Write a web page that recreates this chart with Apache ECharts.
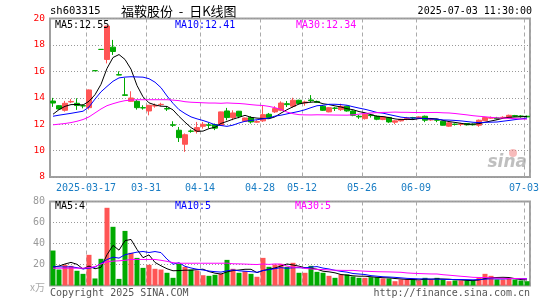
<!DOCTYPE html>
<html><head><meta charset="utf-8">
<script src="https://cdn.jsdelivr.net/npm/echarts@6/dist/echarts.min.js"></script>
<style>html,body{margin:0;padding:0;background:#fff}#c{width:545px;height:300px}</style>
</head><body><div id="c"></div>
<script>
const dates = [
 '2025-03-07','2025-03-10','2025-03-11','2025-03-12','2025-03-13','2025-03-14','2025-03-17','2025-03-18','2025-03-19','2025-03-20',
 '2025-03-21','2025-03-24','2025-03-25','2025-03-26','2025-03-27','2025-03-28','2025-03-31','2025-04-01','2025-04-02','2025-04-03',
 '2025-04-07','2025-04-08','2025-04-09','2025-04-10','2025-04-11','2025-04-14','2025-04-15','2025-04-16','2025-04-17','2025-04-18',
 '2025-04-21','2025-04-22','2025-04-23','2025-04-24','2025-04-25','2025-04-28','2025-04-29','2025-04-30','2025-05-06','2025-05-07',
 '2025-05-08','2025-05-09','2025-05-12','2025-05-13','2025-05-14','2025-05-15','2025-05-16','2025-05-19','2025-05-20','2025-05-21',
 '2025-05-22','2025-05-23','2025-05-26','2025-05-27','2025-05-28','2025-05-29','2025-05-30','2025-06-03','2025-06-04','2025-06-05',
 '2025-06-06','2025-06-09','2025-06-10','2025-06-11','2025-06-12','2025-06-13','2025-06-16','2025-06-17','2025-06-18','2025-06-19',
 '2025-06-20','2025-06-23','2025-06-24','2025-06-25','2025-06-26','2025-06-27','2025-06-30','2025-07-01','2025-07-02','2025-07-03'];
const opens = [13.75,13.40,13.05,13.68,13.58,13.40,13.25,16.05,17.66,16.90,
 17.83,15.75,14.22,13.73,13.73,13.25,13.00,13.38,13.48,13.18,
 11.95,11.54,10.48,11.48,11.46,11.84,11.94,11.97,11.92,13.00,
 12.50,12.98,12.22,12.50,12.15,12.25,12.75,12.93,13.05,13.55,
 13.36,13.81,13.60,13.83,13.72,13.36,12.93,13.22,13.10,13.36,
 13.00,12.60,12.42,12.70,12.60,12.35,12.50,12.15,12.25,12.42,
 12.50,12.45,12.60,12.32,12.33,12.22,11.85,12.00,11.98,12.05,
 12.00,11.92,12.27,12.45,12.47,12.48,12.50,12.65,12.62,12.60];
const closes = [13.60,13.15,13.58,13.72,13.41,13.38,14.59,16.05,17.66,19.43,
 17.50,15.72,14.18,13.98,13.25,13.23,13.43,13.40,13.50,13.15,
 11.92,10.98,11.20,11.46,11.74,11.99,11.92,11.70,12.93,12.50,
 12.85,12.60,12.47,12.17,12.20,12.72,12.50,13.18,13.60,13.48,
 13.81,13.56,13.68,13.78,13.65,13.05,13.25,13.20,13.35,13.00,
 12.67,12.55,12.75,12.65,12.37,12.55,12.17,12.25,12.37,12.47,
 12.47,12.55,12.30,12.37,12.30,11.92,12.10,11.98,12.02,11.95,
 11.95,12.30,12.50,12.50,12.42,12.52,12.67,12.60,12.58,12.55];
const lows = [13.31,13.10,12.95,13.60,13.08,13.20,13.10,16.05,17.66,16.60,
 17.24,15.70,14.15,13.70,13.10,13.10,12.67,13.25,13.35,13.00,
 11.79,10.65,9.90,11.35,11.29,11.66,11.70,11.55,11.90,12.29,
 12.30,12.45,12.20,12.05,12.10,12.17,12.42,12.85,12.98,13.30,
 13.25,13.50,13.40,13.65,13.60,13.00,12.90,13.00,13.00,12.95,
 12.60,12.40,12.35,12.50,12.30,12.30,12.10,12.00,12.20,12.30,
 12.35,12.40,12.15,12.25,12.15,11.90,11.80,11.90,11.85,11.90,
 11.90,11.80,12.25,12.40,12.35,12.40,12.45,12.55,12.50,12.50];
const highs = [13.99,13.45,13.76,13.90,13.96,13.50,14.62,16.05,17.66,19.43,
 18.38,16.00,15.50,14.49,13.83,13.43,13.45,13.56,13.62,13.36,
 12.22,11.79,11.30,11.60,12.17,12.17,12.10,12.05,12.95,13.23,
 13.05,13.00,12.50,12.60,12.30,13.38,12.85,13.36,13.73,13.75,
 14.00,13.85,13.78,14.20,13.78,13.45,13.30,13.30,13.55,13.40,
 13.05,12.70,12.80,12.78,12.65,12.60,12.55,12.30,12.40,12.55,
 12.55,12.60,12.65,12.42,12.40,12.25,12.15,12.05,12.10,12.08,
 12.05,12.35,12.55,12.58,12.55,12.60,12.72,12.70,12.68,12.65];
const volumes = [33.3,15.2,19.7,18.7,14.0,11.1,29.2,6.7,25.4,74.0,
 55.9,6.3,52.0,31.1,26.3,16.8,19.7,15.9,15.2,12.1,
 7.3,20.6,17.8,15.2,14.3,9.8,9.2,10.2,11.1,24.4,
 15.9,12.1,13.7,11.1,8.3,26.3,17.8,20.0,20.6,17.8,
 21.6,12.1,12.1,18.7,13.0,12.1,9.2,7.3,10.5,10.5,
 8.6,7.3,7.3,7.9,7.9,6.7,6.7,4.1,5.7,5.7,
 6.3,4.8,7.3,5.7,7.3,5.7,4.1,4.8,4.8,4.8,
 4.8,7.3,11.1,9.2,5.7,5.7,6.3,5.7,4.8,4.1];
// moving-average values at the start of the window (history precedes the window)
const ma5Head = [12.75,13.10,13.35,13.48];
const ma10Head = [12.60,12.68,12.75,12.82,12.90,12.98,13.30,13.90,14.45];
const ma30Head = [11.95,12.00,12.05,12.12,12.22,12.35,12.55,12.85,13.15,13.40,
 13.55,13.68,13.78,13.82,13.85,13.85,13.85,13.85,13.85,13.85,
 13.82,13.78,13.70,13.66,13.64,13.62,13.60,13.60,13.58];
const volMa5Head = [17.5,18.5,20.5,22.0];
const volMa10Head = [17.8,17.8,17.6,17.8,17.0,15.8,16.5,17.5,21.0];
const volMa30Head = [16.5,16.5,16.5,16.5,16.5,16.5,17.0,18.0,20.5,22.5,
 23.2,23.5,24.0,24.8,24.8,24.8,24.8,24.8,24.0,23.0,
 21.8,21.2,21.2,21.2,21.2,21.2,21.2,21.2,21.2];
const markedDates = [6,16,25,35,42,52,61,79];
const priceTicks = {min:8, max:20, step:2};
const volTicks = {min:0, max:80, step:20};
const maLabels = ['MA5:12.55','MA10:12.41','MA30:12.34'];
const volMaLabels = ['MA5:4','MA10:5','MA30:5'];

const UP = '#ff5555', DOWN = '#00aa00';
function movingAvg(src, n, head){
  return src.map((v,i)=>{
    if (i < head.length) return head[i];
    let s = 0; for (let k=i-n+1;k<=i;k++) s += src[k];
    return +(s/n).toFixed(3);
  });
}
const marked = new Set(markedDates);
const candleData = dates.map((d,i)=>{
  const item = {value:[opens[i],closes[i],lows[i],highs[i]]};
  if (opens[i] === closes[i]) item.itemStyle = {color:DOWN,color0:DOWN,borderColor:DOWN,borderColor0:DOWN};
  return item;
});
const volData = volumes.map((v,i)=>({value:v,itemStyle:{color: closes[i] > opens[i] ? UP : DOWN}}));
const mono = 'DejaVu Sans Mono';
const splitIntervalFn = (idx)=>marked.has(idx);
const vLine = {show:true, interval:splitIntervalFn, lineStyle:{color:'#aaa', type:[4,3], width:1}};
const hLine = {show:true, lineStyle:{color:'#999', type:[1,2], width:1}};

const chart = echarts.init(document.getElementById('c'), null, {renderer:'canvas'});
const lineS = (name, data, color, xi, yi)=>({type:'line', name, data, xAxisIndex:xi, yAxisIndex:yi, symbol:'none', smooth:false,
  lineStyle:{color, width:1}, itemStyle:{color}, z:5, silent:true});
chart.setOption({
  animation:false,
  backgroundColor:'#fff',
  grid:[
    {left:50, top:18.5, width:480, height:158.5, show:true, borderColor:'#a0a0a0', borderWidth:2, backgroundColor:'transparent'},
    {left:50, top:201.5, width:480, height:84, show:true, borderColor:'#a0a0a0', borderWidth:2, backgroundColor:'transparent'}
  ],
  xAxis:[
    {type:'category', gridIndex:0, data:dates, boundaryGap:true,
     axisLine:{show:false}, axisTick:{show:false}, splitLine:vLine,
     axisLabel:{show:true, interval:splitIntervalFn, color:'#1a7dc4', fontFamily:mono, fontSize:10, margin:6,
       padding:[0,6,0,0],
       formatter:(v,idx)=> idx===markedDates[0] ? v : v.slice(5)}},
    {type:'category', gridIndex:1, data:dates, boundaryGap:true,
     axisLine:{show:false}, axisTick:{show:false}, axisLabel:{show:false}, splitLine:vLine}
  ],
  yAxis:[
    {type:'value', gridIndex:0, min:priceTicks.min, max:priceTicks.max, interval:priceTicks.step,
     axisLine:{show:false}, axisTick:{show:false}, splitLine:hLine,
     axisLabel:{color:'#ff0000', fontFamily:mono, fontSize:9.5, margin:5}},
    {type:'value', gridIndex:1, min:volTicks.min, max:volTicks.max, interval:volTicks.step,
     axisLine:{show:false}, axisTick:{show:false}, splitLine:hLine,
     axisLabel:{color:'#999', fontFamily:mono, fontSize:10, margin:5, formatter:(v)=> v===0 ? '' : String(v)}}
  ],
  series:[
    {type:'candlestick', xAxisIndex:0, yAxisIndex:0, data:candleData, barWidth:5,
     itemStyle:{color:UP, color0:DOWN, borderColor:UP, borderColor0:DOWN, borderWidth:1}, z:3, silent:true},
    lineS('MA5', movingAvg(closes,5,ma5Head), '#000', 0, 0),
    lineS('MA10', movingAvg(closes,10,ma10Head), '#0000ff', 0, 0),
    lineS('MA30', movingAvg(closes,30,ma30Head), '#ff00ff', 0, 0),
    {type:'bar', xAxisIndex:1, yAxisIndex:1, data:volData, barWidth:5, z:3, silent:true},
    lineS('VMA5', movingAvg(volumes,5,volMa5Head), '#000', 1, 1),
    lineS('VMA10', movingAvg(volumes,10,volMa10Head), '#0000ff', 1, 1),
    lineS('VMA30', movingAvg(volumes,30,volMa30Head), '#ff00ff', 1, 1)
  ],
  graphic:[
    {type:'text', x:50, y:11.5, style:{text:'sh603315', fill:'#000', font:'10.5px '+mono, align:'left', verticalAlign:'middle'}},
    {type:'text', x:121, y:11.5, style:{text:'福鞍股份  -  日K线图', fill:'#000', font:'13px "Noto Sans CJK SC"', align:'left', verticalAlign:'middle'}},
    {type:'text', x:532, y:11.5, style:{text:'2025-07-03 11:30:00', fill:'#000', font:'10px '+mono, align:'right', verticalAlign:'middle'}},
    {type:'text', x:55, y:25, z:10, style:{text:maLabels[0], fill:'#000', font:'10px '+mono, align:'left', verticalAlign:'middle'}},
    {type:'text', x:175, y:25, z:10, style:{text:maLabels[1], fill:'#0000ff', font:'10px '+mono, align:'left', verticalAlign:'middle'}},
    {type:'text', x:296, y:25, z:10, style:{text:maLabels[2], fill:'#ff00ff', font:'10px '+mono, align:'left', verticalAlign:'middle'}},
    {type:'text', x:55, y:206.5, z:10, style:{text:volMaLabels[0], fill:'#000', font:'10px '+mono, align:'left', verticalAlign:'middle'}},
    {type:'text', x:175, y:206.5, z:10, style:{text:volMaLabels[1], fill:'#0000ff', font:'10px '+mono, align:'left', verticalAlign:'middle'}},
    {type:'text', x:295, y:206.5, z:10, style:{text:volMaLabels[2], fill:'#ff00ff', font:'10px '+mono, align:'left', verticalAlign:'middle'}},
    {type:'text', x:45, y:287, style:{text:'x万', fill:'#aaa', font:'10px "Noto Sans CJK SC"', align:'right', verticalAlign:'middle'}},
    {type:'text', x:50, y:293, style:{text:'Copyright 2025 SINA.COM', fill:'#555', font:'10px '+mono, align:'left', verticalAlign:'middle'}},
    {type:'text', x:530, y:293, style:{text:'http://finance.sina.com.cn', fill:'#555', font:'10px '+mono, align:'right', verticalAlign:'middle'}},
    {type:'text', x:527, y:163, z:1, style:{text:'sina', fill:'rgba(170,170,170,0.75)', font:'italic bold 17px "DejaVu Sans"', align:'right', verticalAlign:'middle'}},
    {type:'circle', shape:{cx:513, cy:153, r:4}, z:1, style:{fill:'rgba(240,120,120,0.5)'}}
  ]
});
</script>
</body></html>
